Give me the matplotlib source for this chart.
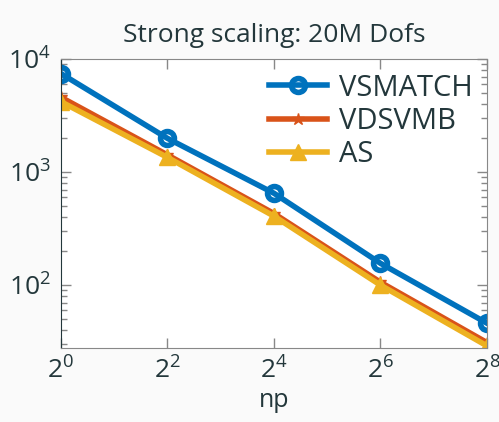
import numpy as np
import matplotlib.pyplot as plt
from matplotlib.ticker import LogLocator, FixedLocator, NullFormatter

# data
np_procs = [1, 4, 16, 64, 256]
vsmatch = [7450, 1990, 650, 156, 46]
vdsvmb = [4600, 1420, 430, 106, 31]
as_vals = [4200, 1350, 408, 100, 29]

series_names = ['VSMATCH', 'VDSVMB', 'AS']
xtick_vals = [1, 4, 16, 64, 256]
xtick_labels = ['$2^{0}$', '$2^{2}$', '$2^{4}$', '$2^{6}$', '$2^{8}$']

txt = '#23373b'
plt.rcParams['font.family'] = ['Open Sans', 'DejaVu Sans']
plt.rcParams['mathtext.default'] = 'regular'

fig = plt.figure(figsize=(4.99, 4.22), dpi=100, facecolor='#fafafa')
ax = fig.add_axes([0.122, 0.175, 0.854, 0.685])
ax.set_facecolor('white')

ax.plot(np_procs, vsmatch, '-o', color='#0072BD', lw=4, ms=10, mfc='none',
        mew=4, label=series_names[0])
ax.plot(np_procs, vdsvmb, '-*', color='#D95319', lw=4, ms=9,
        label=series_names[1])
ax.plot(np_procs, as_vals, '-^', color='#EDB120', lw=4, ms=12,
        label=series_names[2])

ax.set_xscale('log', base=2)
ax.set_yscale('log')
ax.set_xlim(1, 256)
ax.set_ylim(27.7, 1e4)
ax.xaxis.set_major_locator(FixedLocator(xtick_vals))
ax.set_xticklabels(xtick_labels)
ax.xaxis.set_minor_locator(FixedLocator([]))
ax.yaxis.set_minor_locator(LogLocator(base=10, subs=np.arange(2, 10)))
ax.yaxis.set_minor_formatter(NullFormatter())

ax.tick_params(which='both', direction='in', top=True, right=True,
               colors='#888888', labelcolor=txt, labelsize=19, pad=7)
ax.tick_params(which='major', length=7, width=1)
ax.tick_params(which='minor', length=4, width=1)
for s in ['top', 'right', 'bottom']:
    ax.spines[s].set_color('#888888')
ax.spines['left'].set_color(txt)

ax.set_title('Strong scaling: 20M Dofs', color=txt, fontsize=19, pad=12)
ax.set_xlabel('np', color=txt, fontsize=18, labelpad=2)

leg = ax.legend(loc='upper right', frameon=False, fontsize=21,
                handlelength=2.0, labelspacing=0.15, borderaxespad=0.1,
                handletextpad=0.4)
for t in leg.get_texts():
    t.set_color(txt)

fig.savefig('out.png', dpi=100, facecolor=fig.get_facecolor())
